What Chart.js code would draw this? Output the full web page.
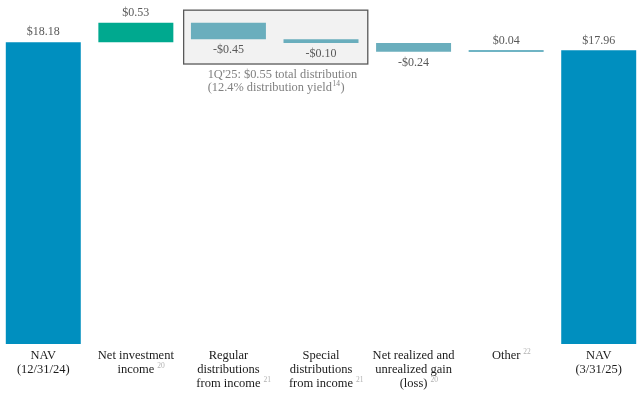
<!DOCTYPE html>
<html lang="en">
<head>
<meta charset="UTF-8">
<title>NAV Bridge</title>
<script src="https://cdn.jsdelivr.net/npm/chart.js"></script>
<style>
    html, body {
        margin: 0;
        padding: 0;
        background: #fff;
        overflow: hidden;
        width: 640px;
        height: 396px;
    }
    .chart-container {
        position: absolute;
        left: -3px;
        top: 0;
        width: 648px;
        height: 396px;
    }
</style>
</head>
<body>
<div class="chart-container">
    <canvas id="chartCanvas" width="648" height="396"></canvas>
</div>
<script>
    const categories = [
        ['NAV', '(12/31/24)'],
        ['Net investment', 'income'],
        ['Regular', 'distributions', 'from income'],
        ['Special', 'distributions', 'from income'],
        ['Net realized and', 'unrealized gain', '(loss)'],
        ['Other'],
        ['NAV', '(3/31/25)']
    ];
    const footnotes = ['', '20', '21', '21', '20', '22', ''];
    const values = [18.18, 0.53, -0.45, -0.10, -0.24, 0.04, 17.96];
    const isTotal = [true, false, false, false, false, false, true];
    const noteLines = ["1Q'25: $0.55 total distribution", '(12.4% distribution yield'];
    const noteFootnote = '14';

    const yMin = 10;
    const yMax = 19;
    const serif = '"Liberation Serif", "DejaVu Serif", serif';

    // waterfall ranges
    let running = 0;
    const ranges = values.map((v, i) => {
        if (isTotal[i]) {
            running = v;
            return [yMin, v];
        }
        const start = running;
        running = +(running + v).toFixed(2);
        return [start, running];
    });

    const barColors = ['#008fbf', '#00a98f', '#6aaebd', '#6aaebd', '#6aaebd', '#3f9bb1', '#008fbf'];

    function money(v) {
        return (v < 0 ? '-' : '') + '$' + Math.abs(v).toFixed(2);
    }

    const annotations = {
        id: 'annotations',
        beforeDatasetsDraw(chart) {
            const { ctx, scales: { x, y } } = chart;
            const half = (x.getPixelForValue(1) - x.getPixelForValue(0)) / 2;
            const left = x.getPixelForValue(2) - half + 1.5;
            const right = x.getPixelForValue(3) + half + 0.5;
            const top = y.getPixelForValue(19.05);
            const bottom = y.getPixelForValue(17.59);
            ctx.save();
            ctx.fillStyle = '#f2f2f2';
            ctx.fillRect(left, top, right - left, bottom - top);
            ctx.strokeStyle = '#595959';
            ctx.lineWidth = 1.3;
            ctx.strokeRect(left, top, right - left, bottom - top);

            ctx.fillStyle = '#808080';
            ctx.font = '12.4px ' + serif;
            ctx.textAlign = 'left';
            ctx.textBaseline = 'middle';
            const tx = left + 24;
            ctx.fillText(noteLines[0], tx, bottom + 11);
            ctx.fillText(noteLines[1], tx, bottom + 24);
            let w = ctx.measureText(noteLines[1]).width;
            ctx.font = '7.5px ' + serif;
            ctx.fillText(noteFootnote, tx + w + 0.5, bottom + 20);
            const w2 = ctx.measureText(noteFootnote).width;
            ctx.font = '12.4px ' + serif;
            ctx.fillText(')', tx + w + w2 + 1, bottom + 24);
            ctx.restore();
        },
        afterDatasetsDraw(chart) {
            const { ctx, scales: { x, y } } = chart;
            ctx.save();
            ctx.textAlign = 'center';
            ctx.textBaseline = 'middle';

            // value labels
            ctx.font = '12px ' + serif;
            ctx.fillStyle = '#595959';
            values.forEach((v, i) => {
                const cx = x.getPixelForValue(i);
                const hi = Math.max(ranges[i][0], ranges[i][1]);
                const lo = Math.min(ranges[i][0], ranges[i][1]);
                if (v >= 0) {
                    ctx.fillText(money(v), cx, y.getPixelForValue(hi) - 10);
                } else {
                    ctx.fillText(money(v), cx, y.getPixelForValue(lo) + 11);
                }
            });

            // category labels
            const base = chart.chartArea.bottom + 12;
            categories.forEach((lines, i) => {
                const cx = x.getPixelForValue(i);
                lines.forEach((line, j) => {
                    ctx.font = '12.5px ' + serif;
                    ctx.fillStyle = '#1a1a1a';
                    ctx.textAlign = 'center';
                    const ly = base + j * 14;
                    ctx.fillText(line, cx, ly);
                    if (j === lines.length - 1 && footnotes[i]) {
                        const w = ctx.measureText(line).width;
                        ctx.font = '7.5px ' + serif;
                        ctx.fillStyle = '#b0b0b0';
                        ctx.textAlign = 'left';
                        ctx.fillText(footnotes[i], cx + w / 2 + 3, ly - 4);
                    }
                });
            });
            ctx.restore();
        }
    };

    const ctx = document.getElementById('chartCanvas').getContext('2d');
    new Chart(ctx, {
        type: 'bar',
        data: {
            labels: categories,
            datasets: [{
                data: ranges,
                backgroundColor: barColors,
                borderWidth: 0,
                borderSkipped: false,
                barPercentage: 0.81,
                categoryPercentage: 1.0
            }]
        },
        options: {
            responsive: false,
            animation: false,
            layout: {
                padding: { top: 12, bottom: 52, left: 0, right: 0 }
            },
            plugins: {
                legend: { display: false },
                tooltip: { enabled: false }
            },
            scales: {
                x: {
                    display: false,
                    grid: { display: false }
                },
                y: {
                    display: false,
                    min: yMin,
                    max: yMax,
                    grid: { display: false }
                }
            }
        },
        plugins: [annotations]
    });
</script>
</body>
</html>
